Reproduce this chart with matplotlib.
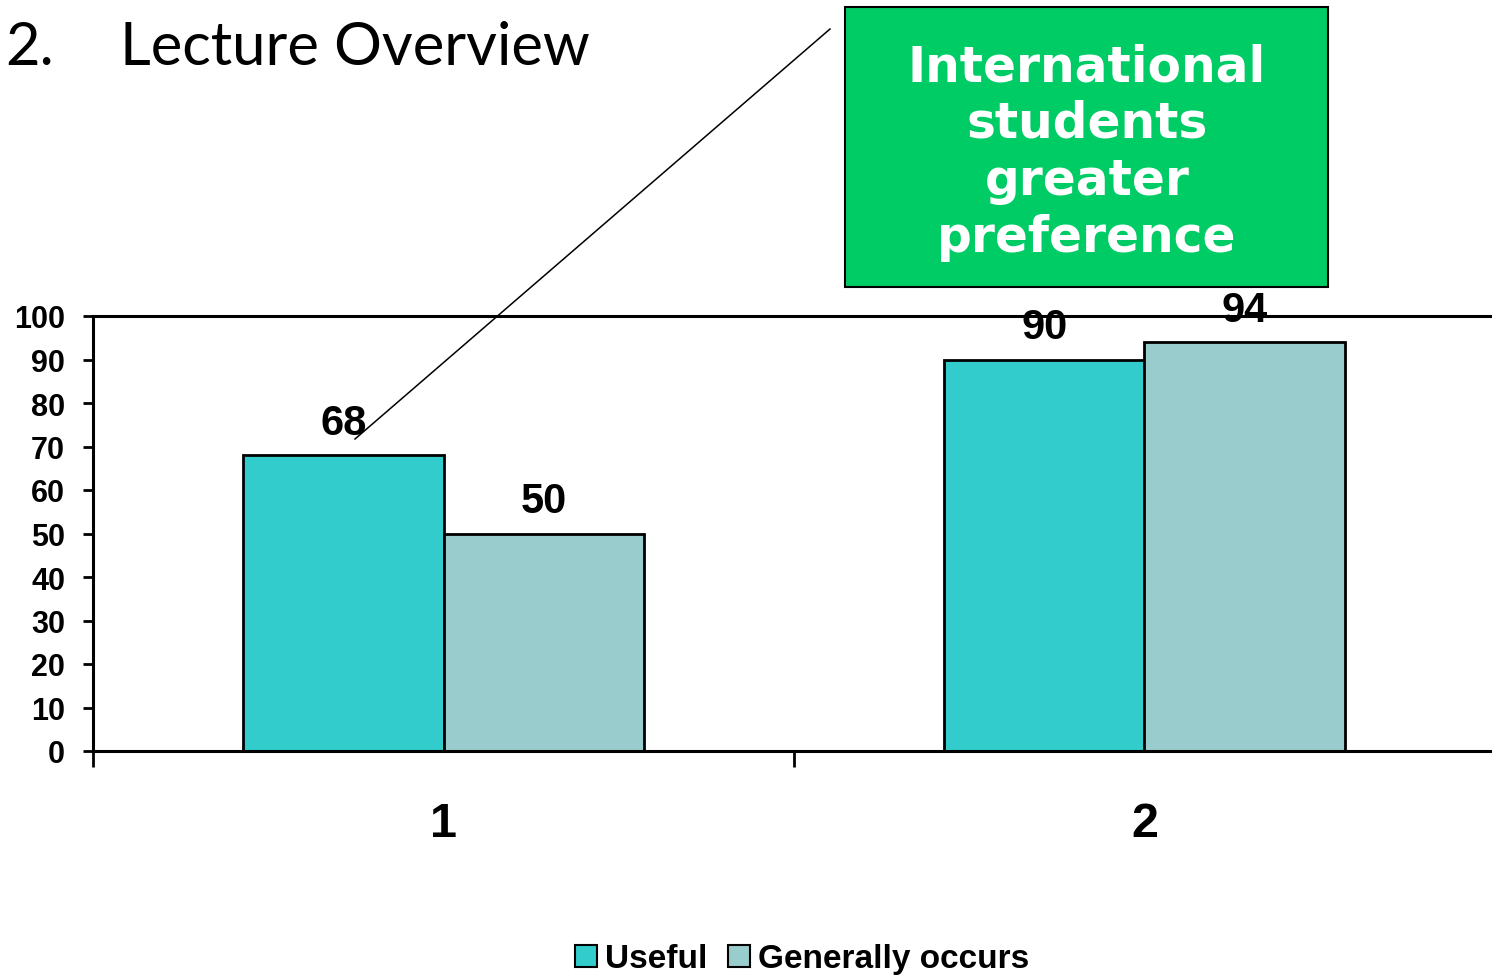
import numpy as np
import matplotlib
matplotlib.use("Agg")
import matplotlib.pyplot as plt
from matplotlib.patches import Rectangle, Patch
from matplotlib.lines import Line2D

# data
categories = ["1", "2"]
useful = [68, 90]
generally = [50, 94]
series_names = ["Useful", "Generally occurs"]
colors = ["#33CCCC", "#99CCCC"]
yticks = [0, 10, 20, 30, 40, 50, 60, 70, 80, 90, 100]
title_num = "2."
title_text = "Lecture Overview"
callout_lines = ["International", "students", "greater", "preference"]

W, H = 1492, 979
fig = plt.figure(figsize=(W / 100, H / 100), dpi=100)
plt.rcParams["font.family"] = ["Liberation Sans", "DejaVu Sans"]

# axes placed in pixels (plot area runs a little past the right edge)
ax = fig.add_axes([93 / W, 1 - 752 / H, 1402 / W, (752 - 317) / H])

x = np.arange(1, len(categories) + 1)
bw = 0.286
b1 = ax.bar(x - bw / 2, useful, bw, color=colors[0], edgecolor="black", linewidth=2, label=series_names[0])
b2 = ax.bar(x + bw / 2, generally, bw, color=colors[1], edgecolor="black", linewidth=2, label=series_names[1])

for bars in (b1, b2):
    ax.bar_label(bars, padding=9, fontsize=30, fontweight="bold")

ax.set_xlim(0.5, len(categories) + 0.5)
ax.set_ylim(0, 100)
ax.set_yticks(yticks)
ax.set_yticklabels([str(v) for v in yticks], fontsize=22, fontweight="bold")
ax.tick_params(axis="y", length=7, width=2, pad=13)

# category boundaries as major ticks, names as minor ticks
ax.set_xticks(np.arange(0.5, len(categories) + 1, 1.0))
ax.set_xticklabels([])
ax.tick_params(axis="x", which="major", length=11.5, width=2)
ax.set_xticks(x, minor=True)
ax.set_xticklabels(categories, minor=True, fontsize=35, fontweight="bold")
ax.tick_params(axis="x", which="minor", length=0, pad=36)

for s in ["left", "bottom", "top"]:
    ax.spines[s].set_linewidth(2.2)
ax.spines["right"].set_visible(False)

# legend
handles = [Patch(facecolor=c, edgecolor="black", linewidth=1.5) for c in colors]
leg = fig.legend(handles, series_names, loc="center", bbox_to_anchor=(802 / W, 1 - 960 / H),
                 ncol=2, frameon=False, handlelength=0.66, handleheight=0.66,
                 handletextpad=0.25, columnspacing=0.6,
                 prop={"size": 24, "weight": "bold"})

# title
fig.text(5 / W, 1 - 65 / H, title_num, fontsize=43, family="Lato", va="baseline")
fig.text(120 / W, 1 - 65 / H, title_text, fontsize=43, family="Lato", va="baseline")

# callout box and connector
fig.add_artist(Line2D([830 / W, 355 / W], [1 - 30 / H, 1 - 440 / H], transform=fig.transFigure,
                      color="black", linewidth=1.1))
fig.add_artist(Rectangle((845 / W, 1 - 288 / H), (1328 - 845) / W, (288 - 8) / H,
                         transform=fig.transFigure, facecolor="#00CC66", edgecolor="black", linewidth=1.5))
baselines = [82, 138, 195, 252]
for line, yb in zip(callout_lines, baselines):
    fig.text(1087 / W, 1 - yb / H, line, fontsize=35, family="DejaVu Sans", fontweight="bold",
             color="white", ha="center", va="baseline")

fig.savefig("out.png", dpi=100)
